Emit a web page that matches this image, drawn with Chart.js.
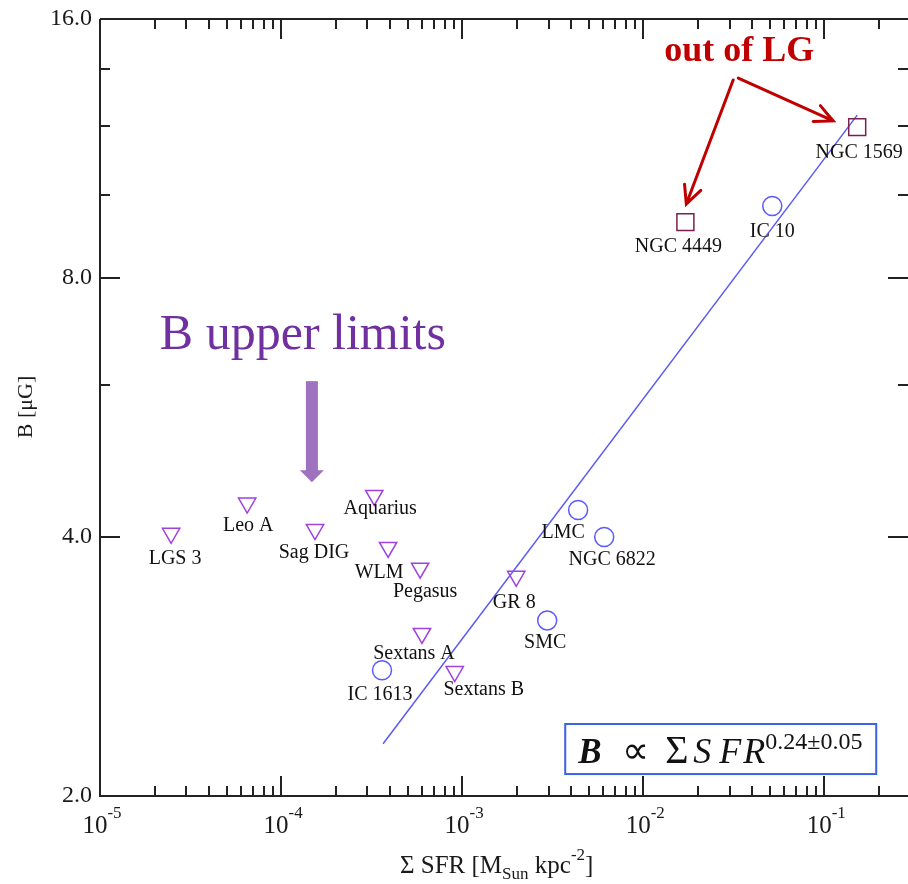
<!DOCTYPE html>
<html>
<head>
<meta charset="utf-8">
<script src="https://cdn.jsdelivr.net/npm/chart.js@4.4.0/dist/chart.umd.min.js"></script>
<style>
  html, body { margin: 0; padding: 0; background: #fff; }
  #wrap { width: 908px; height: 884px; }
</style>
</head>
<body>
<div id="wrap"><canvas id="chart" width="908" height="884"></canvas></div>
<script>
// upper limits (triangles)
var upperNames = ['LGS 3', 'Leo A', 'Sag DIG', 'Aquarius', 'WLM', 'Pegasus', 'Sextans A', 'Sextans B', 'GR 8'];
var upperSFR = [2.47e-5, 6.5e-5, 1.54e-4, 3.27e-4, 3.9e-4, 5.86e-4, 6.0e-4, 9.1e-4, 1.99e-3];
var upperB = [4.04, 4.38, 4.08, 4.47, 3.89, 3.68, 3.09, 2.79, 3.60];

// detections (circles)
var detNames = ['IC 1613', 'SMC', 'LMC', 'NGC 6822', 'IC 10'];
var detSFR = [3.61e-4, 2.95e-3, 4.37e-3, 6.09e-3, 0.0516];
var detB = [2.80, 3.20, 4.30, 4.00, 9.70];

// out of LG (squares)
var outNames = ['NGC 4449', 'NGC 1569'];
var outSFR = [0.0171, 0.152];
var outB = [9.29, 11.98];

// fit line ends
var fitSFR = [3.66e-4, 0.152];
var fitB = [2.30, 12.37];

// axis ticks
var xMajor = [1e-5, 1e-4, 1e-3, 1e-2, 1e-1];
var xExp = ['-5', '-4', '-3', '-2', '-1'];
var yMajor = [2, 4, 8, 16];
var yMinor = [6, 10, 12, 14];

// label offsets in px (dx, dy) from the marker
var labelShift = {
  'LGS 3': [4, 25], 'Leo A': [1, 23], 'Sag DIG': [-1, 23], 'Aquarius': [6, 13],
  'WLM': [-9, 25], 'Pegasus': [5, 24], 'Sextans A': [-8, 20], 'Sextans B': [29, 18],
  'GR 8': [-2, 26], 'IC 1613': [-2, 24], 'SMC': [-2, 22], 'LMC': [-15, 23],
  'NGC 6822': [8, 23], 'IC 10': [0, 26], 'NGC 4449': [-7, 25], 'NGC 1569': [2, 26]
};

function pts(xs, ys) {
  return xs.map(function (x, i) { return { x: x, y: ys[i] }; });
}

var SERIF = '"Liberation Serif", "Times New Roman", serif';

var framePlugin = {
  id: 'frame',
  afterDraw: function (chart) {
    var ctx = chart.ctx;
    var a = chart.chartArea;
    var xs = chart.scales.x, ys = chart.scales.y;
    ctx.save();
    ctx.strokeStyle = '#222';
    ctx.lineWidth = 2;
    ctx.beginPath();
    ctx.moveTo(a.left, a.top); ctx.lineTo(a.right, a.top);
    ctx.moveTo(a.left, a.top); ctx.lineTo(a.left, a.bottom);
    ctx.lineTo(a.right, a.bottom);
    ctx.stroke();

    // x ticks, bottom and top
    ctx.beginPath();
    xMajor.forEach(function (d) {
      for (var k = 1; k <= 9; k++) {
        var v = d * k;
        if (v > xs.max) break;
        var px = Math.round(xs.getPixelForValue(v));
        var len = k == 1 ? 20 : 10;
        ctx.moveTo(px, a.bottom); ctx.lineTo(px, a.bottom - len);
        ctx.moveTo(px, a.top); ctx.lineTo(px, a.top + len);
      }
    });
    // y ticks, left and right
    yMajor.concat(yMinor).forEach(function (v) {
      var py = Math.round(ys.getPixelForValue(v));
      var len = yMajor.indexOf(v) >= 0 ? 20 : 10;
      ctx.moveTo(a.left, py); ctx.lineTo(a.left + len, py);
      ctx.moveTo(a.right, py); ctx.lineTo(a.right - len, py);
    });
    ctx.stroke();

    // y tick labels
    ctx.fillStyle = '#1a1a1a';
    ctx.font = '24px ' + SERIF;
    ctx.textAlign = 'right';
    ctx.textBaseline = 'middle';
    yMajor.forEach(function (v) {
      ctx.fillText(v.toFixed(1), a.left - 8, ys.getPixelForValue(v));
    });

    // x tick labels 10^n
    ctx.textAlign = 'left';
    ctx.textBaseline = 'alphabetic';
    xMajor.forEach(function (v, i) {
      var px = xs.getPixelForValue(v);
      ctx.font = '25px ' + SERIF;
      var w1 = ctx.measureText('10').width;
      ctx.font = '17px ' + SERIF;
      var w2 = ctx.measureText(xExp[i]).width;
      var x0 = px + 2 - (w1 + w2) / 2;
      ctx.font = '25px ' + SERIF;
      ctx.fillText('10', x0, a.bottom + 37);
      ctx.font = '17px ' + SERIF;
      ctx.fillText(xExp[i], x0 + w1, a.bottom + 22);
    });

    // x title
    var tx = 400, tb = a.bottom + 77;
    function run(txt, font, dy) {
      ctx.font = font;
      ctx.fillText(txt, tx, tb + dy);
      tx += ctx.measureText(txt).width;
    }
    run('\u03A3 SFR [M', '25px ' + SERIF, 0);
    run('Sun', '17px ' + SERIF, 6);
    run(' kpc', '25px ' + SERIF, 0);
    run('-2', '17px ' + SERIF, -13);
    run(']', '25px ' + SERIF, 0);

    // y title
    ctx.save();
    ctx.translate(26, 407);
    ctx.rotate(-Math.PI / 2);
    ctx.textAlign = 'center';
    ctx.textBaseline = 'middle';
    ctx.font = '22px ' + SERIF;
    ctx.fillText('B [\u03BCG]', 0, 0);
    ctx.restore();

    // point labels
    ctx.font = '20px ' + SERIF;
    ctx.fillStyle = '#111';
    ctx.textAlign = 'center';
    ctx.textBaseline = 'middle';
    [[0, upperNames], [1, detNames], [2, outNames]].forEach(function (p) {
      var meta = chart.getDatasetMeta(p[0]);
      meta.data.forEach(function (el, i) {
        var s = labelShift[p[1][i]];
        ctx.fillText(p[1][i], el.x + s[0], el.y + s[1]);
      });
    });

    function P(x, y) { return [xs.getPixelForValue(x), ys.getPixelForValue(y)]; }

    // "out of LG" and red arrows
    var c = P(0.0339, 14.65);
    ctx.fillStyle = '#c00000';
    ctx.font = 'bold 36px ' + SERIF;
    ctx.fillText('out of LG', c[0], c[1]);
    function arrow(from, to, color, width, head) {
      var ang = Math.atan2(to[1] - from[1], to[0] - from[0]);
      ctx.strokeStyle = color;
      ctx.lineWidth = width;
      ctx.lineCap = 'round';
      ctx.beginPath();
      ctx.moveTo(from[0], from[1]); ctx.lineTo(to[0], to[1]);
      ctx.moveTo(to[0] - head * Math.cos(ang - 0.45), to[1] - head * Math.sin(ang - 0.45));
      ctx.lineTo(to[0], to[1]);
      ctx.lineTo(to[0] - head * Math.cos(ang + 0.45), to[1] - head * Math.sin(ang + 0.45));
      ctx.stroke();
    }
    arrow(P(0.0314, 13.59), P(0.0173, 9.75), '#c00000', 3, 20);
    arrow(P(0.0335, 13.66), P(0.112, 12.18), '#c00000', 3, 20);

    // "B upper limits" with thick arrow
    var u = P(1.32e-4, 6.85);
    ctx.fillStyle = '#7030a0';
    ctx.font = '50px ' + SERIF;
    ctx.fillText('B upper limits', u[0], u[1]);
    var t0 = P(1.48e-4, 6.07), t1 = P(1.48e-4, 4.63);
    ctx.fillStyle = '#9e72bf';
    ctx.fillRect(t0[0] - 6, t0[1], 12, t1[1] - t0[1] - 11);
    ctx.beginPath();
    ctx.moveTo(t0[0] - 12, t1[1] - 12);
    ctx.lineTo(t0[0] + 12, t1[1] - 12);
    ctx.lineTo(t0[0], t1[1]);
    ctx.closePath();
    ctx.fill();

    // formula box
    var b0 = P(3.71e-3, 2.425), b1 = P(0.1936, 2.121);
    ctx.strokeStyle = '#3a62e6';
    ctx.lineWidth = 2;
    ctx.strokeRect(b0[0], b0[1], b1[0] - b0[0], b1[1] - b0[1]);
    ctx.fillStyle = '#111';
    ctx.textAlign = 'left';
    ctx.textBaseline = 'alphabetic';
    var fb = b1[1] - 11;
    function put(txt, font, dx, dy) {
      ctx.font = font;
      ctx.fillText(txt, b0[0] + dx, fb + dy);
    }
    put('B', 'italic bold 35px ' + SERIF, 13, 0);
    put('\u221D', '38px ' + SERIF, 57, 0);
    put('\u03A3', '40px ' + SERIF, 100, 0);
    put('S', 'italic 36px ' + SERIF, 128, 0);
    put('F', 'italic 36px ' + SERIF, 154, 0);
    put('R', 'italic 36px ' + SERIF, 178, 0);
    put('0.24\u00B10.05', '24px ' + SERIF, 200, -14);
    ctx.restore();
  }
};

new Chart(document.getElementById('chart'), {
  type: 'scatter',
  data: {
    datasets: [
      {
        label: 'upper limits',
        data: pts(upperSFR, upperB),
        pointStyle: 'triangle',
        pointRotation: 180,
        pointRadius: 10,
        pointBorderWidth: 1.5,
        borderColor: '#a040e0',
        pointBorderColor: '#a040e0',
        pointBackgroundColor: 'rgba(0,0,0,0)'
      },
      {
        label: 'detections',
        data: pts(detSFR, detB),
        pointStyle: 'circle',
        pointRadius: 9.5,
        pointBorderWidth: 1.5,
        borderColor: '#5a5aff',
        pointBorderColor: '#5a5aff',
        pointBackgroundColor: 'rgba(0,0,0,0)'
      },
      {
        label: 'out of LG',
        data: pts(outSFR, outB),
        pointStyle: 'rect',
        pointRadius: 12,
        pointBorderWidth: 1.5,
        borderColor: '#7a2050',
        pointBorderColor: '#7a2050',
        pointBackgroundColor: 'rgba(0,0,0,0)'
      },
      {
        label: 'fit',
        data: pts(fitSFR, fitB),
        showLine: true,
        pointRadius: 0,
        borderColor: '#5b5bf2',
        borderWidth: 1.5
      }
    ]
  },
  options: {
    responsive: false,
    animation: false,
    layout: { autoPadding: false, padding: { left: 100, top: 19, right: 0, bottom: 88 } },
    plugins: { legend: { display: false }, tooltip: { enabled: false } },
    scales: {
      x: { type: 'logarithmic', min: 1e-5, max: 0.29, display: false },
      y: { type: 'logarithmic', min: 2, max: 16, display: false }
    }
  },
  plugins: [framePlugin]
});
</script>
</body>
</html>
